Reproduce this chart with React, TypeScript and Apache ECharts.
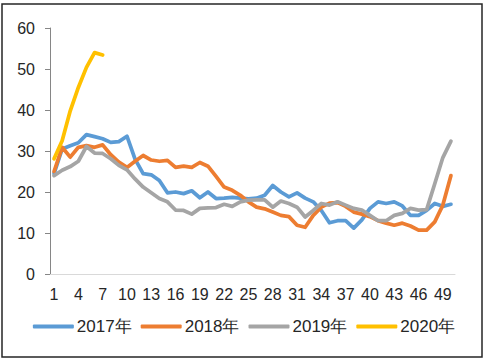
import React, { useEffect, useRef } from "react";
import * as echarts from "echarts";

const weeks = ["1","2","3","4","5","6","7","8","9","10","11","12","13","14","15","16","17","18","19","20","21","22","23","24","25","26","27","28","29","30","31","32","33","34","35","36","37","38","39","40","41","42","43","44","45","46","47","48","49","50"];

const y2017 = [24.5, 30.5, 31.3, 32, 34, 33.5, 33, 32.1, 32.3, 33.6, 28, 24.5, 24.2, 22.8, 19.8, 20, 19.6, 20.3, 18.6, 20, 18.4, 18.5, 18.7, 18.5, 18.3, 18.5, 19.2, 21.6, 20, 18.8, 19.8, 18.5, 17.6, 15.5, 12.5, 13, 13, 11.2, 13.2, 16, 17.6, 17.2, 17.6, 16.6, 14.3, 14.3, 15.5, 17.2, 16.5, 17];
const y2018 = [25, 30.9, 28.5, 30.9, 31.3, 30.9, 31.5, 29.1, 27.3, 26, 27.5, 28.9, 27.8, 27.5, 27.7, 26, 26.3, 26, 27.2, 26.3, 23.8, 21.2, 20.4, 19.2, 17.6, 16.3, 15.9, 15.1, 14.3, 14, 11.9, 11.4, 14.3, 16.3, 17.3, 17.4, 16.5, 15.1, 14.6, 14, 13, 12.4, 11.9, 12.4, 11.7, 10.7, 10.7, 12.7, 16.8, 24];
const y2019 = [24, 25.3, 26.2, 27.5, 31.1, 29.5, 29.4, 28.1, 26.5, 25.4, 23.2, 21.2, 19.8, 18.4, 17.6, 15.6, 15.5, 14.6, 16, 16.1, 16.2, 17, 16.5, 17.6, 18, 18.1, 18.1, 16.3, 17.8, 17.2, 16.3, 13.9, 15.5, 17.2, 16.8, 17.6, 16.8, 16, 15.6, 14.3, 13, 13, 14.3, 14.8, 16, 15.6, 15.7, 22, 28.4, 32.4];
const y2020 = [28.1, 32.5, 39.8, 45.5, 50.4, 54, 53.4];

const seriesNames = ["2017年", "2018年", "2019年", "2020年"];
const colors = ["#5B9BD5", "#ED7D31", "#A5A5A5", "#FFC000"];

export default function App() {
  const ref = useRef<HTMLDivElement>(null);
  useEffect(() => {
    if (!ref.current) return;
    const chart = echarts.init(ref.current, null, { renderer: "svg" });
    const font = "'Liberation Sans', Arial, sans-serif";
    const data = [y2017, y2018, y2019, y2020];
    chart.setOption({
      animation: false,
      color: colors,
      textStyle: { fontFamily: font },
      grid: { left: 50, right: 33, top: 28, bottom: 89, containLabel: false },
      graphic: [
        {
          type: "rect",
          shape: { x: 2, y: 4, width: 480, height: 353 },
          style: { fill: "none", stroke: "#262626", lineWidth: 1.5 },
          silent: true,
        },
      ],
      legend: {
        data: seriesNames,
        bottom: 23,
        left: "center",
        itemWidth: 41,
        itemHeight: 4,
        itemGap: 9,
        icon: "roundRect",
        textStyle: { fontSize: 17, color: "#262626", fontFamily: font, padding: [0, 0, 0, -2] },
      },
      xAxis: {
        type: "category",
        data: weeks,
        boundaryGap: true,
        axisLine: { show: true, lineStyle: { color: "#D9D9D9", width: 1 } },
        axisTick: { show: false },
        axisLabel: { interval: 2, fontSize: 16, color: "#262626", margin: 12 },
        splitLine: { show: false },
      },
      yAxis: {
        type: "value",
        min: 0,
        max: 60,
        interval: 10,
        axisLine: { show: true, lineStyle: { color: "#868686", width: 1 } },
        axisTick: { show: true, length: 5, lineStyle: { color: "#868686" } },
        axisLabel: { fontSize: 16, color: "#262626", margin: 15 },
        splitLine: { show: false },
      },
      series: seriesNames.map((name, i) => ({
        name,
        type: "line",
        data: data[i],
        symbol: "none",
        lineStyle: { width: 3.75, color: colors[i], cap: "round", join: "round" },
        itemStyle: { color: colors[i] },
      })),
    });
    return () => chart.dispose();
  }, []);
  return (
    <div
      ref={ref}
      style={{ position: "absolute", left: 0, top: 0, width: 488, height: 363 }}
    />
  );
}
